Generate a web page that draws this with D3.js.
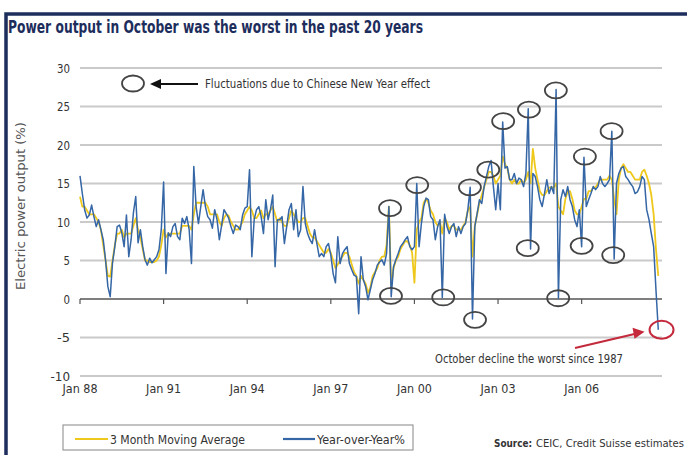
<!DOCTYPE html>
<html>
<head>
<meta charset="utf-8">
<script src="https://cdn.jsdelivr.net/npm/d3@7"></script>
<style>
  body { margin: 0; background: #fff; }
  svg { display: block; }
  text { font-family: "Liberation Sans Narrow", "DejaVu Sans Condensed", "Liberation Sans", Arial, sans-serif; }
</style>
</head>
<body>
<div id="chart"></div>
<script>
// ---------------------------------------------------
// DATA — monthly, Jan 1988 .. Oct 2008 (index 0 = Jan 88)
// ---------------------------------------------------
const yoy = [
  16, 13.7, 11.6, 10.5, 10.9, 12.2, 10.7, 9.4, 10.3, 9, 7.7, 5.1,        // 1988
  1.6, 0.3, 4.7, 6.8, 9.4, 9.6, 8.6, 6.8, 10.9, 5.5, 7.7, 11.2,          // 1989
  13.3, 7.3, 9, 6.8, 5.1, 4.4, 5.3, 4.7, 5.1, 5.5, 6.4, 9,               // 1990
  15.2, 3.3, 8.6, 8.1, 9.4, 9.8, 8.1, 7.7, 10.5, 9.8, 10.7, 9,           // 1991
  4.6, 17.2, 12, 9.8, 12, 14.2, 12, 10.7, 10.3, 9.2, 11.6, 10.3,         // 1992
  7.7, 9.6, 11.6, 11.1, 10.5, 9.4, 8.5, 9.6, 9.4, 9, 10.9, 11.8,         // 1993
  12, 16.8, 5.5, 10.3, 11.6, 12, 10.7, 8.5, 12.9, 10.3, 11.6, 13.5,      // 1994
  4.2, 10.3, 10.3, 10.7, 7.2, 9.4, 11.6, 12.4, 9, 11.6, 8.1, 9,          // 1995
  14.6, 9.8, 8.5, 7.7, 7.2, 9, 7.2, 5.5, 5.9, 5.5, 6.8, 7.2,             // 1996
  5.7, 3.3, 2.1, 8.1, 4.6, 5.9, 6.4, 6.8, 4.6, 3.8, 3.1, 2.9,            // 1997
  -1.9, 5.5, 2.5, 1.6, -0.1, 1.2, 2.5, 3.3, 4.4, 4.8, 5.1, 4.4,          // 1998
  5.9, 12, 0.3, 4.2, 5.1, 5.9, 6.8, 7.2, 7.7, 8.1, 6.8, 6.4,             // 1999
  6.8, 15, 6.8, 9.8, 12, 13.1, 12.9, 10.7, 10.3, 7.7, 9.4, 10.3,         // 2000
  0.2, 11, 9.4, 8.5, 9.4, 9.8, 8.1, 9.4, 8.5, 9.4, 9.8, 11.6,            // 2001
  14.5, -2.6, 9.4, 11.1, 12.9, 12.4, 14.6, 15.9, 17.2, 18, 14.6, 11.6,   // 2002
  15, 11.6, 23, 17, 17.2, 15.5, 15.5, 16.3, 15, 15.7, 15.5, 14.6,        // 2003
  16.3, 24.7, 6.5, 16.3, 15.9, 14.6, 12.9, 12, 13.7, 15.5, 13.7, 14.6,   // 2004
  13.7, 27.2, 0.1, 12.9, 14.2, 13.3, 14.6, 12.9, 12, 10.3, 9.4, 11.6,    // 2005
  6.8, 18.4, 12, 12.9, 13.7, 14.6, 14.2, 14.6, 15.9, 15, 14.6, 15,       // 2006
  15.5, 21.8, 5.2, 15, 16.3, 17, 17.2, 15.9, 15.5, 15, 14.6, 13.7,       // 2007
  13.9, 14.6, 15.9, 15.5, 11.6, 10.3, 8.5, 6.8, 1.2, -4                  // 2008
];

const movingAvg = [
  13.3, 12, 12, 11.5, 11, 11, 11, 10.5, 10, 9, 7, 5,
  3, 2.9, 5, 7, 8.5, 8.5, 9, 8, 8.5, 8.5, 8.5, 9.5,
  10.5, 9, 8, 6.5, 5, 5, 4.8, 4.8, 4.8, 5, 5.5, 7,
  9, 8, 8.5, 8.5, 8.5, 8.5, 8.5, 8.5, 9.5, 9.5, 9.5, 9.5,
  9, 11, 12.5, 12.5, 12.5, 12.5, 12.5, 12, 11, 11, 11, 11,
  10, 9.5, 10.5, 11, 10.8, 10, 9.5, 9, 9, 9.5, 10, 11,
  11.5, 12, 11.5, 10.5, 10.5, 11, 11.5, 10.5, 11, 11, 11.5, 12,
  11, 10, 10.5, 10, 9.5, 9.5, 10.5, 11.5, 11, 10.5, 10, 10,
  10.5, 10.5, 9.5, 8.5, 8, 8, 7.5, 7, 6.5, 6, 6, 6.5,
  6, 5, 4, 4.5, 5, 5.5, 6, 6, 5.5, 4.5, 3.5, 3,
  2, 3, 2.5, 2, 0.8, 1.5, 3, 3.5, 4, 5, 5.5, 5.5,
  7, 12, 1.6, 4, 5, 5.5, 6.5, 7, 7.5, 7.5, 7, 6,
  2.1, 9, 10, 10.5, 12.5, 13, 12.5, 11.5, 11, 10, 9.5, 10,
  8.5, 10.5, 10, 9, 9.5, 9.5, 9, 9, 9, 9.5, 10, 11.5,
  12, 5.5, 9.5, 11, 12.5, 13.5, 14.5, 15.5, 16.5, 16.5, 16, 15,
  15.5, 16, 18.5, 17.5, 17, 15.5, 15, 15.5, 15, 15, 15.5, 15,
  15.5, 16.5, 15, 19.5, 17, 15.5, 14, 13.5, 13.5, 14, 14.5, 14.5,
  14.5, 15, 12, 11.5, 11, 13, 14, 14, 13, 11.5, 11, 11,
  12, 13, 13, 14, 14, 14.5, 14.5, 15, 15.5, 15.5, 15.5, 15.5,
  16, 15.5, 13, 11, 15.5, 17, 17.5, 17, 16.5, 16.5, 16, 15.5,
  15.5, 15.5, 16.5, 16.8, 16, 15, 13.5, 11, 6.5, 3
];

const yTicks = [-10, -5, 0, 5, 10, 15, 20, 25, 30];
const xTickLabels = ["Jan 88", "Jan 91", "Jan 94", "Jan 97", "Jan 00", "Jan 03", "Jan 06"];

// circled Chinese-New-Year swings (month index, value)
const cnyMarks = [
  [133.5, 11.8], [133.9, 0.4], [145.2, 14.8], [156.4, 0.2],
  [167.9, 14.5], [170.1, -2.7], [175.8, 16.8], [182.2, 23.1],
  [193.3, 24.6], [192.8, 6.6], [204.9, 27.1], [205.9, 0.1],
  [217.4, 18.5], [216, 6.9], [228.9, 21.8], [229.6, 5.7]
];
const octMark = [250.4, -4];

// ---------------------------------------------------
// SVG + SCALES
// ---------------------------------------------------
const width = 687, height = 455;
const svg = d3.select("#chart").append("svg")
  .attr("width", width).attr("height", height);

const x = d3.scaleLinear().domain([0, 250.6]).range([80, 662]);
const y = d3.scaleLinear().domain([-10, 30]).range([376, 68]);

const navy = "#1d2d5c";
const txt = "#333";

// text helper — squeezes glyphs to the measured width
function label(g, px, py, str, size, len, anchor, extra) {
  const t = g.append("text")
    .attr("x", px).attr("y", py)
    .attr("font-size", size)
    .attr("fill", txt)
    .attr("text-anchor", anchor || "start")
    .text(str);
  if (len) t.attr("textLength", len).attr("lengthAdjust", "spacingAndGlyphs");
  if (extra) extra(t);
  return t;
}

// frame
svg.append("path")
  .attr("d", `M6,${height} V14 H${width}`)
  .attr("fill", "none").attr("stroke", navy).attr("stroke-width", 3.5);

// title
label(svg, 8, 33, "Power output in October was the worst in the past 20 years", 18, 415, "start",
  t => t.attr("font-weight", "bold").attr("fill", navy));

// ---------------------------------------------------
// GRID + AXES
// ---------------------------------------------------
svg.append("g").selectAll("line")
  .data(yTicks.filter(d => d !== 0))
  .join("line")
  .attr("x1", x.range()[0]).attr("x2", x.range()[1])
  .attr("y1", d => y(d)).attr("y2", d => y(d))
  .attr("stroke", "#cacaca").attr("stroke-width", 2);

svg.append("g").selectAll("text")
  .data(yTicks)
  .join("text")
  .attr("x", 70).attr("y", d => y(d) + 4.5)
  .attr("text-anchor", "end")
  .attr("font-size", 13)
  .attr("fill", txt)
  .attr("textLength", d => String(d).length * 6.5)
  .attr("lengthAdjust", "spacingAndGlyphs")
  .text(d => d);

// zero line with ticks every 3 years
svg.append("line")
  .attr("x1", x.range()[0]).attr("x2", x.range()[1])
  .attr("y1", y(0)).attr("y2", y(0))
  .attr("stroke", "#555").attr("stroke-width", 1.6);

svg.append("g").selectAll("line")
  .data(xTickLabels.map((d, i) => i * 36))
  .join("line")
  .attr("x1", d => x(d)).attr("x2", d => x(d))
  .attr("y1", y(0)).attr("y2", y(0) + 5)
  .attr("stroke", "#555").attr("stroke-width", 1.2);

svg.append("g").selectAll("text")
  .data(xTickLabels)
  .join("text")
  .attr("x", (d, i) => x(i * 36)).attr("y", 393)
  .attr("text-anchor", "middle")
  .attr("font-size", 13)
  .attr("fill", txt)
  .attr("textLength", 35).attr("lengthAdjust", "spacingAndGlyphs")
  .text(d => d);

label(svg, 0, 0, "Electric power output (%)", 12, 168, "middle",
  t => t.attr("transform", `translate(25,206) rotate(-90)`).attr("fill", "#555"));

// ---------------------------------------------------
// LINES
// ---------------------------------------------------
const line = d3.line()
  .x((d, i) => x(i))
  .y(d => y(d));

svg.append("path")
  .datum(movingAvg)
  .attr("fill", "none")
  .attr("stroke", "#efc81c")
  .attr("stroke-width", 1.8)
  .attr("stroke-linejoin", "round")
  .attr("d", line);

svg.append("path")
  .datum(yoy)
  .attr("fill", "none")
  .attr("stroke", "#3566a6")
  .attr("stroke-width", 1.5)
  .attr("stroke-linejoin", "round")
  .attr("d", line);

// ---------------------------------------------------
// ANNOTATIONS
// ---------------------------------------------------
svg.append("g").selectAll("ellipse")
  .data(cnyMarks)
  .join("ellipse")
  .attr("cx", d => x(d[0])).attr("cy", d => y(d[1]))
  .attr("rx", 11).attr("ry", 8)
  .attr("fill", "none").attr("stroke", "#444").attr("stroke-width", 1.8);

// key: ellipse <- arrow, text
svg.append("ellipse")
  .attr("cx", 133).attr("cy", 83.5).attr("rx", 11).attr("ry", 8)
  .attr("fill", "none").attr("stroke", "#444").attr("stroke-width", 1.8);
svg.append("line")
  .attr("x1", 158).attr("x2", 198).attr("y1", 84).attr("y2", 84)
  .attr("stroke", "#111").attr("stroke-width", 2);
svg.append("path")
  .attr("d", "M150,84 L161,79 L161,89 Z").attr("fill", "#111");
label(svg, 205, 88, "Fluctuations due to Chinese New Year effect", 12, 225);

// October decline
const red = "#c42a3c";
const ox = x(octMark[0]), oy = y(octMark[1]);
svg.append("ellipse")
  .attr("cx", ox).attr("cy", oy).attr("rx", 12).attr("ry", 9)
  .attr("fill", "none").attr("stroke", red).attr("stroke-width", 2);
svg.append("line")
  .attr("x1", 575).attr("y1", 348).attr("x2", ox - 26).attr("y2", oy + 4)
  .attr("stroke", red).attr("stroke-width", 2.2);
svg.append("path")
  .attr("d", `M${ox - 17},${oy + 2} L${ox - 29},${oy - 2} L${ox - 27},${oy + 9} Z`)
  .attr("fill", red);
label(svg, 435, 363, "October decline the worst since 1987", 12, 188);

// ---------------------------------------------------
// LEGEND + SOURCE
// ---------------------------------------------------
const legend = svg.append("g");
legend.append("rect")
  .attr("x", 63).attr("y", 425).attr("width", 350).attr("height", 25)
  .attr("fill", "#fff").attr("stroke", "#9a9a9a").attr("stroke-width", 1.2);
legend.append("line")
  .attr("x1", 75).attr("x2", 108).attr("y1", 439).attr("y2", 439)
  .attr("stroke", "#efc81c").attr("stroke-width", 2.2);
label(legend, 110, 444, "3 Month Moving Average", 13, 135);
legend.append("line")
  .attr("x1", 283).attr("x2", 315).attr("y1", 439).attr("y2", 439)
  .attr("stroke", "#3566a6").attr("stroke-width", 2.2);
label(legend, 317, 444, "Year-over-Year%", 13, 88);

label(svg, 494, 447, "Source:", 10.5, 38, "start", t => t.attr("font-weight", "bold"));
label(svg, 536, 447, "CEIC, Credit Suisse estimates", 10.5, 148);
</script>
</body>
</html>
